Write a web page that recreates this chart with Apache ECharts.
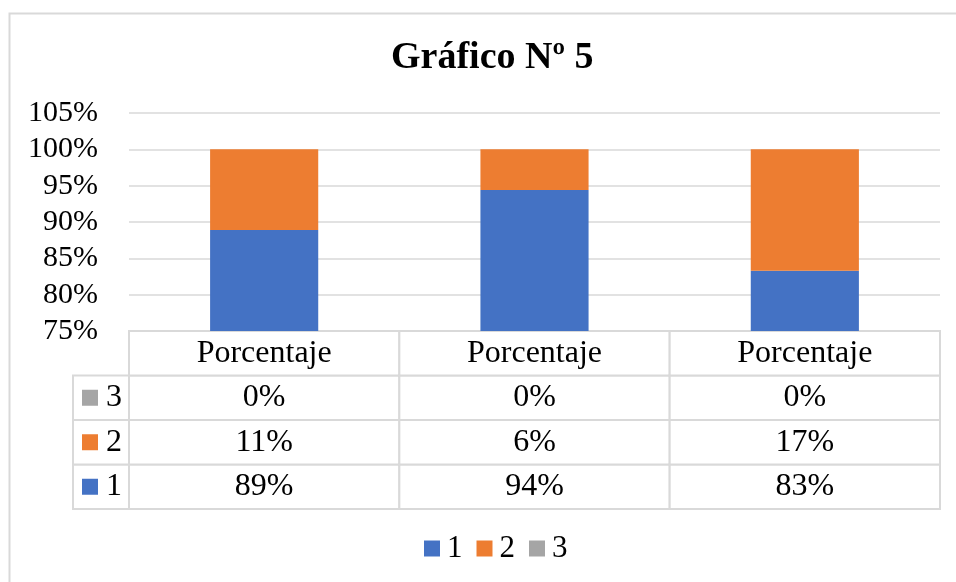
<!DOCTYPE html>
<html>
<head>
<meta charset="utf-8">
<script src="https://cdn.jsdelivr.net/npm/echarts@6/dist/echarts.min.js"></script>
<style>
html,body{margin:0;padding:0;background:#fff;}
#chart{width:956px;height:582px;}
</style>
</head>
<body>
<div id="chart"></div>
<script>
// ---- Data ----
const categories = ['Porcentaje', 'Porcentaje', 'Porcentaje'];
const seriesNames = ['1', '2', '3'];
const series1 = [88.9, 94.4, 83.3];
const series2 = [11.1, 5.6, 16.7];
const series3 = [0, 0, 0];
const yTicks = [75, 80, 85, 90, 95, 100, 105];
const colors = ['#4472C4', '#ED7D31', '#A5A5A5'];

const FONT = '"Liberation Serif", "Times New Roman", serif';
const GRID_LINE = '#d9d9d9';

const allSeries = [series1, series2, series3];

// table cells: rows bottom->top: 0='1', 1='2', 2='3', 3=header
const rowLabels = ['1', '2', '3', 'hdr'];
const tableCells = [];
categories.forEach((c, ci) => {
  allSeries.forEach((vals, si) => {
    tableCells.push({ value: [ci, si], text: Math.round(vals[ci]) + '%' });
  });
  tableCells.push({ value: [ci, 3], text: c });
});
const legendCells = seriesNames.map((n, i) => ({ value: [0, i], text: n, color: colors[i] }));

const chart = echarts.init(document.getElementById('chart'), null, { renderer: 'canvas' });

function cellRect(api) {
  const c = api.coord([api.value(0), api.value(1)]);
  const s = api.size([1, 1]);
  return { x: c[0] - s[0] / 2, y: c[1] - s[1] / 2, w: s[0], h: s[1], cx: c[0], cy: c[1] };
}

const option = {
  animation: false,
  backgroundColor: '#ffffff',
  title: {
    text: 'Gráfico Nº 5',
    left: 386,
    top: 34,
    textStyle: { fontFamily: FONT, fontSize: 38, fontWeight: 'bold', color: '#000' }
  },
  legend: {
    data: seriesNames,
    bottom: 13,
    left: 419,
    icon: 'rect',
    itemWidth: 16,
    itemHeight: 16,
    itemGap: 14,
    textStyle: { fontFamily: FONT, fontSize: 31, color: '#000', padding: [0, 0, 0, 2] }
  },
  graphic: [
    { type: 'polyline', silent: true, shape: { points: [[9.5, 582], [9.5, 13.5], [956, 13.5]] },
      style: { stroke: GRID_LINE, lineWidth: 2, fill: null } }
  ],
  grid: [
    { left: 129, right: 16, top: 113, height: 218 },
    { left: 129, right: 16, top: 331, height: 178 },
    { left: 73, width: 56, top: 375.5, height: 133.5 }
  ],
  xAxis: [
    { gridIndex: 0, type: 'category', data: categories, axisLine: { show: false }, axisTick: { show: false }, axisLabel: { show: false } },
    { gridIndex: 1, type: 'category', data: categories, show: false },
    { gridIndex: 2, type: 'category', data: [''], show: false }
  ],
  yAxis: [
    { gridIndex: 0, type: 'value', min: yTicks[0], max: yTicks[yTicks.length - 1], interval: 5,
      axisLine: { show: false }, axisTick: { show: false },
      axisLabel: { fontFamily: FONT, fontSize: 30, color: '#000', margin: 31, formatter: v => v + '%' },
      splitLine: { lineStyle: { color: GRID_LINE, width: 1.5 } } },
    { gridIndex: 1, type: 'category', data: rowLabels, show: false },
    { gridIndex: 2, type: 'category', data: seriesNames, show: false }
  ],
  series: [
    { name: seriesNames[0], type: 'bar', stack: 'total', data: series1, barWidth: '40%', itemStyle: { color: colors[0] } },
    { name: seriesNames[1], type: 'bar', stack: 'total', data: series2, barWidth: '40%', itemStyle: { color: colors[1] } },
    { name: seriesNames[2], type: 'bar', stack: 'total', data: series3, barWidth: '40%', itemStyle: { color: colors[2] } },
    {
      name: 'table', type: 'custom', xAxisIndex: 1, yAxisIndex: 1, silent: true,
      data: tableCells.map(c => c.value),
      renderItem: function (params, api) {
        const r = cellRect(api);
        return {
          type: 'group',
          children: [
            { type: 'rect', shape: { x: r.x, y: r.y, width: r.w, height: r.h },
              style: { fill: '#fff', stroke: GRID_LINE, lineWidth: 2 } },
            { type: 'text', style: { x: r.cx, y: r.cy, text: tableCells[params.dataIndex].text,
              align: 'center', verticalAlign: 'middle', font: '32px ' + FONT, fill: '#000' } }
          ]
        };
      }
    },
    {
      name: 'legendcol', type: 'custom', xAxisIndex: 2, yAxisIndex: 2, silent: true,
      data: legendCells.map(c => c.value),
      renderItem: function (params, api) {
        const r = cellRect(api);
        const cell = legendCells[params.dataIndex];
        return {
          type: 'group',
          children: [
            { type: 'rect', shape: { x: r.x, y: r.y, width: r.w, height: r.h },
              style: { fill: '#fff', stroke: GRID_LINE, lineWidth: 2 } },
            { type: 'rect', shape: { x: r.x + 9, y: r.cy - 8, width: 16, height: 16 },
              style: { fill: cell.color } },
            { type: 'text', style: { x: r.x + 33, y: r.cy, text: cell.text,
              align: 'left', verticalAlign: 'middle', font: '32px ' + FONT, fill: '#000' } }
          ]
        };
      }
    }
  ]
};
chart.setOption(option);
</script>
</body>
</html>
